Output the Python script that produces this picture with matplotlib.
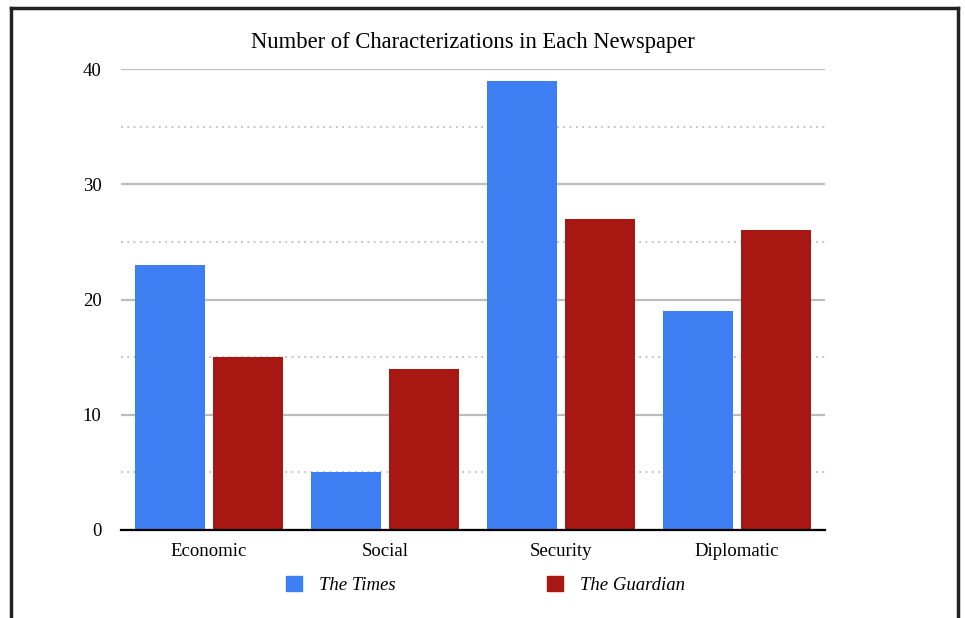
import numpy as np
import matplotlib.pyplot as plt
from matplotlib.patches import Patch
from matplotlib.lines import Line2D

categories = ['Economic', 'Social', 'Security', 'Diplomatic']
times = [23, 5, 39, 19]
guardian = [15, 14, 27, 26]
series_names = ['The Times', 'The Guardian']

plt.rcParams['font.family'] = ['Liberation Serif', 'DejaVu Serif']

blue = '#3d7ff2'
red = '#a81711'

fig = plt.figure(figsize=(9.65, 6.18), dpi=100)
ax = fig.add_axes([121/965, 1 - 530/618, 704/965, 461/618])

x = np.arange(len(categories))
w = 0.398
off = 0.219
ax.bar(x - off, times, w, color=blue, zorder=3)
ax.bar(x + off, guardian, w, color=red, zorder=3)

ax.set_xlim(-0.5, 3.5)
ax.set_ylim(0, 40)
ax.set_yticks([0, 10, 20, 30, 40])
ax.set_yticks([5, 15, 25, 35], minor=True)
ax.set_xticks(x)
ax.set_xticklabels(categories, fontsize=13.5)
ax.tick_params(axis='y', labelsize=13.5, length=0, pad=14)
ax.tick_params(axis='y', which='minor', length=0)
ax.tick_params(axis='x', length=0, pad=9)

ax.grid(axis='y', which='major', color='#bdbdbd', lw=1.6, zorder=0)
ax.grid(axis='y', which='minor', color='#bdbdbd', lw=1.3, ls=(0, (1, 2.5)), zorder=0)
for s in ['top', 'right', 'left']:
    ax.spines[s].set_visible(False)
ax.spines['bottom'].set_color('black')
ax.spines['bottom'].set_linewidth(1.6)
ax.spines['bottom'].set_zorder(4)

ax.set_title('Number of Characterizations in Each Newspaper', fontsize=16.3, pad=15)

handles = [Patch(color=blue), Patch(color=red)]
leg = ax.legend(handles, series_names, loc='center', bbox_to_anchor=(0.518, -0.12),
                ncol=2, frameon=False, handlelength=0.85, handleheight=0.85,
                handletextpad=0.9, columnspacing=8.1,
                prop={'style': 'italic', 'size': 13.5})

# page border
fig.add_artist(Line2D([11/965, 11/965], [0, 1 - 8/618], color='#222222', lw=2.5))
fig.add_artist(Line2D([958/965, 958/965], [0, 1 - 8/618], color='#222222', lw=2.5))
fig.add_artist(Line2D([11/965, 958/965], [1 - 8/618, 1 - 8/618], color='#222222', lw=2.5))

plt.savefig('out.png', dpi=100)
